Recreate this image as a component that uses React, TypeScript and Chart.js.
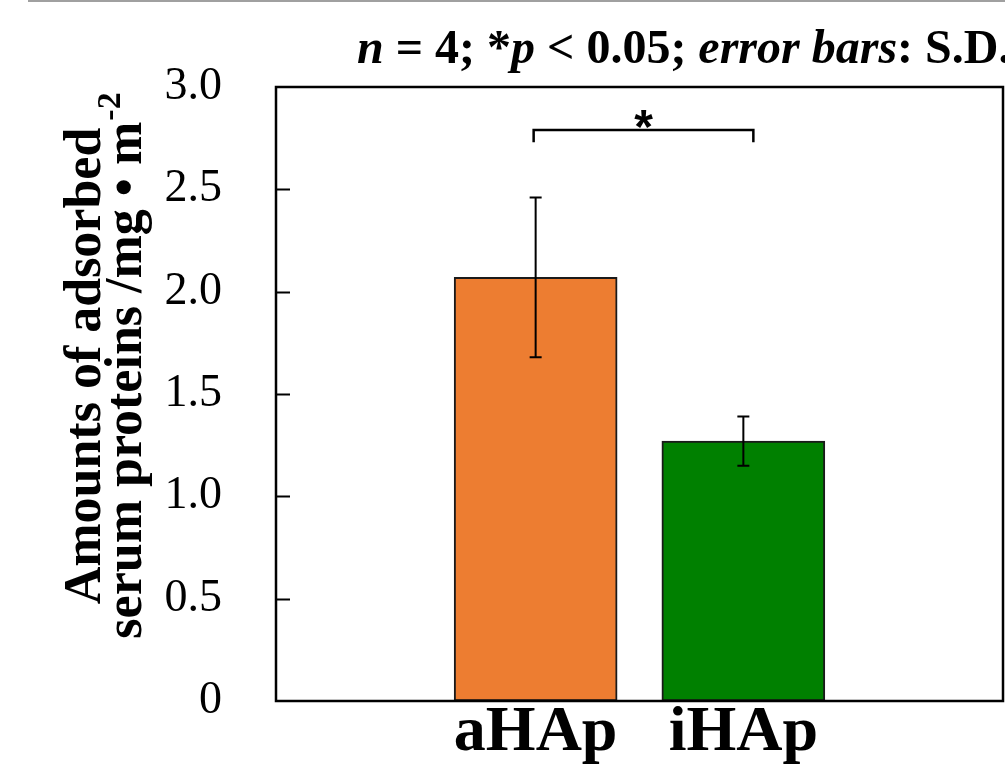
import React, { useEffect, useRef } from 'react';
import { Chart, registerables } from 'chart.js';

Chart.register(...registerables);

// ---- data ----
const categories = ['', '', 'aHAp', '', 'iHAp', '', ''];
const means: (number | null)[] = [null, null, 2.07, null, 1.27, null, null];
const sds: (number | null)[] = [null, null, 0.39, null, 0.12, null, null];
const barColors = ['#ED7D31', '#ED7D31', '#ED7D31', '#008000', '#008000', '#008000', '#008000'];
const yTickValues = [0, 0.5, 1.0, 1.5, 2.0, 2.5, 3.0];
const yTickLabels = ['0', '0.5', '1.0', '1.5', '2.0', '2.5', '3.0'];
const sigPair = [2, 4];
const sigLevel = 2.79;
const sigDrop = 2.73;
const sigLabel = '*';
const titleParts = [
  { text: 'n', italic: true },
  { text: ' = 4; *', italic: false },
  { text: 'p', italic: true },
  { text: ' < 0.05; ', italic: false },
  { text: 'error bars', italic: true },
  { text: ': S.D.', italic: false },
];
const yTitleLine1 = 'Amounts of adsorbed';
const yTitleLine2 = 'serum proteins /mg \u2022 m';
const yTitleSup = '-2';

const SERIF = '"Liberation Serif", "Times New Roman", serif';

const decorPlugin = {
  id: 'decor',
  beforeDraw(chart: any) {
    const ctx = chart.ctx;
    ctx.save();
    ctx.fillStyle = '#ffffff';
    ctx.fillRect(0, 0, chart.width, chart.height);
    ctx.strokeStyle = '#808080';
    ctx.lineWidth = 1.5;
    ctx.beginPath();
    ctx.moveTo(28, 1);
    ctx.lineTo(chart.width, 1);
    ctx.stroke();
    ctx.restore();
  },
  afterDatasetsDraw(chart: any) {
    const ctx = chart.ctx;
    const area = chart.chartArea;
    const y = chart.scales.y;
    const meta = chart.getDatasetMeta(0);
    ctx.save();
    // frame
    ctx.strokeStyle = '#000';
    ctx.lineWidth = 2.5;
    ctx.strokeRect(area.left, area.top, area.right - area.left, area.bottom - area.top);
    // inner ticks
    ctx.lineWidth = 2;
    yTickValues.forEach((v) => {
      if (v <= y.min || v >= y.max) return;
      const py = Math.round(y.getPixelForValue(v)) + 0.5;
      ctx.beginPath();
      ctx.moveTo(area.left, py);
      ctx.lineTo(area.left + 14, py);
      ctx.stroke();
    });
    // error bars
    ctx.lineWidth = 2;
    means.forEach((m, i) => {
      const sd = sds[i];
      if (m == null || sd == null) return;
      const x = meta.data[i].x;
      const yt = y.getPixelForValue(m + sd);
      const yb = y.getPixelForValue(m - sd);
      ctx.beginPath();
      ctx.moveTo(x, yt);
      ctx.lineTo(x, yb);
      ctx.moveTo(x - 6, yt);
      ctx.lineTo(x + 6, yt);
      ctx.moveTo(x - 6, yb);
      ctx.lineTo(x + 6, yb);
      ctx.stroke();
    });
    // significance bracket
    const x1 = meta.data[sigPair[0]].x - 2;
    const x2 = meta.data[sigPair[1]].x + 10;
    const yl = y.getPixelForValue(sigLevel);
    const yd = y.getPixelForValue(sigDrop);
    ctx.lineWidth = 2.5;
    ctx.beginPath();
    ctx.moveTo(x1, yd);
    ctx.lineTo(x1, yl);
    ctx.lineTo(x2, yl);
    ctx.lineTo(x2, yd);
    ctx.stroke();
    ctx.fillStyle = '#000';
    ctx.font = 'bold 48px "Liberation Sans", Arial, sans-serif';
    ctx.textAlign = 'center';
    ctx.textBaseline = 'alphabetic';
    ctx.fillText(sigLabel, (x1 + x2) / 2, yl + 13);

    // title
    ctx.textAlign = 'left';
    let tx = 357;
    titleParts.forEach((p) => {
      ctx.font = (p.italic ? 'italic ' : '') + 'bold 48px ' + SERIF;
      ctx.fillText(p.text, tx, 63);
      tx += ctx.measureText(p.text).width;
    });

    // y axis title (rotated)
    const cy = 366;
    ctx.save();
    ctx.rotate(-Math.PI / 2);
    ctx.font = 'bold 52px ' + SERIF;
    ctx.textAlign = 'center';
    ctx.fillText(yTitleLine1, -cy, 100);
    const w2 = ctx.measureText(yTitleLine2).width;
    ctx.font = 'bold 34px ' + SERIF;
    const ws = ctx.measureText(yTitleSup).width;
    const start = -cy - (w2 + ws) / 2;
    ctx.font = 'bold 52px ' + SERIF;
    ctx.textAlign = 'left';
    ctx.fillText(yTitleLine2, start, 141);
    ctx.font = 'bold 34px ' + SERIF;
    ctx.fillText(yTitleSup, start + w2 + 1, 120);
    ctx.restore();

    ctx.restore();
  },
};

export default function App() {
  const ref = useRef<HTMLCanvasElement | null>(null);
  useEffect(() => {
    document.body.style.margin = '0';
    const canvas = ref.current!;
    const chart = new Chart(canvas, {
      type: 'bar',
      data: {
        labels: categories,
        datasets: [
          {
            data: means as any,
            backgroundColor: barColors,
            borderColor: '#1a1a1a',
            borderWidth: 2,
            barThickness: 163,
            borderSkipped: false,
          },
        ],
      },
      options: {
        responsive: false,
        animation: false,
        events: [],
        layout: { padding: { top: 87, right: 2, left: 0, bottom: 0 } },
        plugins: { legend: { display: false }, tooltip: { enabled: false }, title: { display: false } },
        scales: {
          x: {
            type: 'category',
            grid: { display: false, drawTicks: false },
            border: { display: false },
            ticks: {
              autoSkip: false,
              maxRotation: 0,
              color: '#000',
              padding: 0,
              font: { family: SERIF, size: 64, weight: 'bold', lineHeight: 1 },
            },
            afterFit: (s: any) => {
              s.height = 67;
            },
          },
          y: {
            min: 0,
            max: 3,
            grid: { display: false, drawTicks: false },
            border: { display: false },
            ticks: {
              stepSize: 0.5,
              color: '#000',
              padding: 54,
              font: { family: SERIF, size: 46 },
              callback: (v: any) => {
                const i = yTickValues.findIndex((t) => Math.abs(t - Number(v)) < 1e-9);
                return i >= 0 ? yTickLabels[i] : '';
              },
            },
            afterFit: (s: any) => {
              s.width = 276;
              s.paddingTop = 0;
              s.paddingBottom = 0;
            },
          },
        },
      },
      plugins: [decorPlugin],
    });
    return () => chart.destroy();
  }, []);
  return (
    <canvas
      ref={ref}
      width={1005}
      height={768}
      style={{ position: 'absolute', left: 0, top: 0, width: 1005, height: 768 }}
    />
  );
}
